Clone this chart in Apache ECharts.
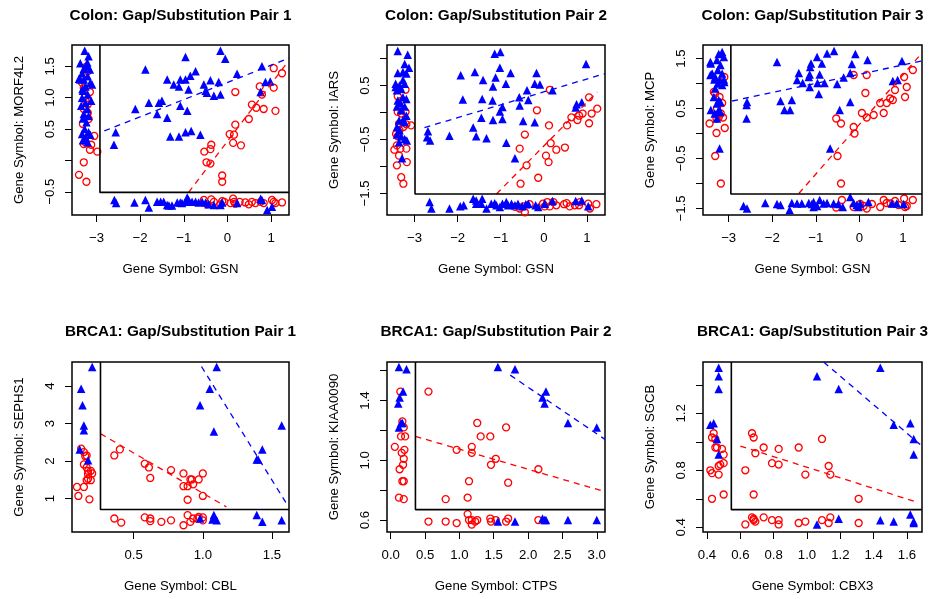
<!DOCTYPE html>
<html lang="en">
<head>
<meta charset="UTF-8">
<title>Gap/Substitution pairs</title>
<script src="https://cdn.jsdelivr.net/npm/echarts@6/dist/echarts.min.js"></script>
<style>
  html, body { margin: 0; padding: 0; background: #fff; }
  #main { width: 929px; height: 599px; }
</style>
</head>
<body>
<div id="main"></div>
<script>
// ---- data: Colon pair 1 (GSN vs MORF4L2) ----
var colon1Blue = [
  [-3.27,1.75],[-3.18,1.66],[-3.37,1.55],[-3.23,1.51],[-3.15,1.45],[-3.33,1.39],[-3.20,1.34],[-3.29,1.29],[-3.14,1.24],[-3.37,1.29],
  [-3.25,1.18],[-3.31,1.11],[-3.20,1.05],[-3.33,1.00],[-3.12,0.95],[-3.25,0.92],[-3.35,0.87],[-3.21,0.82],[-3.29,0.74],[-3.18,0.71],
  [-3.31,0.67],[-3.23,0.61],[-3.27,0.50],[-3.18,0.45],[-3.33,0.42],[-3.14,0.41],[-3.25,0.37],[-3.31,0.32],[-3.20,0.29],[-3.10,1.21],
  [-3.29,1.46],[-3.40,1.30],[-3.21,1.56],[-3.32,1.14],
  [-0.96,1.65],[-0.16,1.75],[-0.05,1.62],[-1.88,1.45],[-1.38,1.29],[-1.08,1.29],[-0.96,1.29],[-0.85,1.35],[-0.73,1.42],[-0.54,1.21],
  [-0.39,1.28],[-0.20,1.25],[0.22,1.38],[0.79,1.50],[-1.23,1.21],[-1.11,1.18],[-0.89,1.13],[-0.50,1.11],[-0.31,1.03],[-0.16,1.05],
  [-0.47,1.08],[-1.80,0.92],[-1.57,0.92],[-1.50,0.95],[-1.08,0.87],[-0.92,0.79],[-2.11,0.82],[-1.61,0.74],[-1.38,0.68],[-2.56,0.45],
  [-2.60,0.25],[-1.31,0.38],[-1.11,0.38],[-0.96,0.45],[-0.83,0.47],[-0.62,0.41],[0.76,1.09],[0.87,1.25],[0.98,1.26],
  [-2.59,-0.63],[-2.55,-0.68],[-2.13,-0.67],[-1.88,-0.63],[-1.80,-0.75],[-1.61,-0.66],[-1.53,-0.66],[-1.46,-0.66],[-1.38,-0.71],
  [-1.34,-0.72],[-1.27,-0.72],[-1.15,-0.67],[-1.08,-0.67],[-1.04,-0.68],[-0.96,-0.66],[-0.92,-0.59],[-0.89,-0.63],[-0.81,-0.66],
  [-0.73,-0.66],[-0.66,-0.67],[-0.58,-0.66],[-0.50,-0.67],[-0.43,-0.70],[-0.31,-0.71],[-0.16,-0.71],[-0.12,-0.67],[0.22,-0.68],
  [0.76,-0.61],[0.79,-0.63],[0.91,-0.79],[1.02,-0.74]
];
var colon1Red = [
  [-3.24,1.49],[-3.20,1.42],[-3.33,1.24],[-3.29,1.16],[-3.15,1.09],[-3.25,1.03],[-3.20,0.89],[-3.29,0.82],[-3.21,0.74],[-3.18,0.66],
  [-3.31,0.58],[-3.05,0.39],[-3.25,0.29],[-3.12,0.25],[-3.29,0.26],[-3.15,0.17],[-2.98,0.14],[-3.29,-0.03],[-3.40,-0.23],[-3.23,-0.34],
  [-3.20,0.76],[-3.25,0.95],
  [0.18,1.09],[0.74,1.18],[1.06,1.47],[1.25,1.39],[1.06,1.16],[0.79,1.05],[0.56,0.89],[0.66,0.84],[0.83,0.82],[1.10,0.79],
  [0.49,0.66],[0.18,0.57],[0.05,0.42],[0.15,0.41],[0.13,0.28],[0.31,0.24],[-0.37,0.25],[-0.53,0.14],[-0.39,0.18],[-0.48,-0.03],
  [-0.39,-0.05],[-0.12,-0.24],[-0.12,-0.34],
  [-0.54,-0.63],[-0.47,-0.70],[-0.37,-0.62],[-0.31,-0.66],[-0.12,-0.65],[-0.07,-0.66],[0.07,-0.68],[0.13,-0.61],[0.15,-0.66],
  [0.28,-0.66],[0.41,-0.67],[0.49,-0.70],[0.56,-0.66],[0.64,-0.68],[0.76,-0.66],[0.83,-0.68],[1.02,-0.63],[1.06,-0.66],[1.25,-0.67],
  [1.10,-0.68],[0.18,-0.69],[-0.16,-0.70]
];
var colon1BlueFit = [[-2.82,0.47],[1.41,1.63]];
var colon1RedFit = [[-0.89,-0.51],[1.37,1.56]];

// ---- data: Colon pair 2 (GSN vs IARS) ----
var colon2Blue = [
  [-3.39,1.14],[-3.16,1.07],[-3.23,0.90],[-3.13,0.83],[-3.39,0.73],[-3.27,0.75],[-3.19,0.72],[-3.44,0.53],[-3.35,0.50],[-3.23,0.53],
  [-3.31,0.44],[-3.41,0.41],[-3.27,0.28],[-3.19,0.25],[-3.39,0.22],[-3.33,0.17],[-3.41,0.11],[-3.23,0.11],[-3.31,0.04],[-3.19,-0.06],
  [-3.36,-0.15],[-3.27,-0.14],[-3.23,-0.18],[-3.41,-0.27],[-3.35,-0.33],[-3.41,-0.41],[-3.31,-0.44],[-3.23,-0.49],[-3.36,-0.55],
  [-3.18,-0.52],[-3.29,-0.85],[-3.44,0.47],[-3.27,0.60],
  [-1.14,1.09],[-1.01,1.12],[-1.02,0.83],[-0.77,0.73],[-1.60,0.75],[-1.93,0.69],[-1.12,0.65],[-1.41,0.60],[-0.88,0.53],[-1.18,0.48],
  [-0.17,0.73],[-0.21,0.53],[-0.09,0.52],[-0.39,0.41],[-1.88,0.24],[-1.43,0.25],[-1.19,0.22],[-0.57,0.28],[-0.36,0.23],[0.20,0.41],
  [-0.56,0.13],[-0.96,0.10],[-1.02,0.02],[-1.45,-0.10],[-1.18,-0.14],[-0.96,-0.12],[-0.48,-0.16],[-0.21,-0.18],[-1.64,-0.28],
  [-2.69,-0.35],[-2.71,-0.46],[-2.64,-0.52],[-2.19,-0.43],[-1.57,-0.44],[-1.33,-0.48],[-0.87,-0.56],[-0.67,-0.85],[0.76,0.15],
  [0.88,0.19],[0.98,0.90],[0.74,0.09],
  [-2.65,-1.66],[-2.61,-1.78],[-2.19,-1.78],[-1.94,-1.74],[-1.86,-1.72],[-1.64,-1.60],[-1.57,-1.63],[-1.45,-1.69],[-1.43,-1.60],
  [-1.33,-1.78],[-1.22,-1.69],[-1.14,-1.68],[-1.10,-1.72],[-1.02,-1.75],[-0.96,-1.69],[-0.87,-1.66],[-0.83,-1.72],[-0.75,-1.69],
  [-0.67,-1.72],[-0.60,-1.69],[-0.50,-1.74],[-0.42,-1.70],[-0.36,-1.69],[-0.19,-1.72],[-0.13,-1.75],[0.02,-1.69],[0.20,-1.64],
  [0.74,-1.64],[0.88,-1.63],[1.03,-1.74],[-1.57,-1.69]
];
var colon2Red = [
  [-3.39,0.30],[-3.33,0.21],[-3.21,0.42],[-3.39,0.01],[-3.31,-0.02],[-3.21,0.01],[-3.36,-0.21],[-3.19,-0.22],[-3.08,-0.24],[-3.26,-0.27],
  [-3.39,-0.44],[-3.41,-0.61],[-3.33,-0.67],[-3.47,-0.69],[-3.19,-0.67],[-3.36,-0.80],[-3.41,-0.98],[-3.18,-0.92],[-3.31,-1.20],
  [-3.26,-1.32],[-3.35,-0.33],[-3.43,-0.40],
  [0.14,0.42],[-0.16,0.04],[1.05,0.28],[1.24,0.07],[1.11,-0.02],[1.05,-0.20],[0.82,-0.06],[0.64,-0.09],[0.78,-0.14],[0.90,-0.02],
  [0.54,-0.24],[0.12,-0.24],[-0.44,-0.41],[0.16,-0.57],[0.29,-0.69],[0.49,-0.65],[-0.56,-0.67],[0.05,-0.80],[0.11,-0.92],[-0.40,-0.98],
  [-0.13,-1.21],[-0.54,-1.32],
  [-0.67,-1.75],[-0.56,-1.78],[-0.44,-1.85],[-0.48,-1.74],[-0.33,-1.70],[0.02,-1.74],[0.08,-1.66],[0.14,-1.74],[0.29,-1.72],
  [0.47,-1.70],[0.53,-1.68],[0.60,-1.74],[0.72,-1.72],[0.82,-1.72],[1.03,-1.69],[1.07,-1.78],[1.22,-1.70],[-0.02,-1.69],[0.22,-1.66],
  [0.84,-1.66]
];
var colon2BlueFit = [[-2.77,-0.28],[1.42,0.72]];
var colon2RedFit = [[-1.10,-1.51],[1.24,0.38]];

// ---- data: Colon pair 3 (GSN vs MCP) ----
var colon3Blue = [
  [-3.42,1.43],[-3.41,1.40],[-3.23,1.59],[-3.15,1.63],[-3.11,1.53],[-3.27,1.47],[-3.19,1.37],[-3.38,1.20],[-3.42,1.17],[-3.31,1.13],
  [-3.21,1.07],[-3.11,1.08],[-3.25,1.00],[-3.15,0.97],[-3.31,0.90],[-3.10,1.03],[-3.34,0.73],[-3.23,0.67],[-3.19,0.63],[-3.27,0.60],
  [-3.41,0.47],[-3.32,0.40],[-3.23,0.47],[-3.19,0.43],[-3.27,0.30],[-3.21,-0.30],[-3.33,1.08],[-3.15,1.20],[-3.25,1.27],
  [-0.58,1.65],[-0.74,1.60],[-0.09,1.59],[-0.97,1.53],[-1.89,1.43],[-1.11,1.40],[-0.86,1.40],[-0.17,1.39],[0.19,1.47],[0.98,1.45],
  [-1.13,1.33],[-1.39,1.21],[-1.14,1.18],[-0.91,1.18],[-1.16,1.13],[-0.21,1.21],[-0.36,1.12],[-1.43,1.07],[-1.30,1.01],[-0.96,1.01],
  [-0.80,1.01],[-0.51,0.99],[-1.14,0.93],[-0.93,0.79],[-1.81,0.65],[-1.55,0.67],[-2.58,0.63],[-2.59,0.57],[-1.59,0.47],[-1.72,0.47],
  [-0.67,-0.30],[-0.21,0.63],[-0.45,0.47],[-2.59,0.30],[0.77,1.05],[0.88,1.07],
  [-2.66,-1.45],[-2.58,-1.50],[-2.16,-1.39],[-1.89,-1.41],[-1.81,-1.43],[-1.60,-1.53],[-1.55,-1.39],[-1.43,-1.40],[-1.32,-1.40],
  [-1.16,-1.39],[-1.09,-1.41],[-1.05,-1.47],[-0.97,-1.45],[-0.91,-1.33],[-0.82,-1.40],[-0.74,-1.39],[-0.59,-1.40],[-0.48,-1.41],
  [-0.38,-1.47],[-0.21,-1.27],[-0.13,-1.39],[-0.06,-1.43],[-0.02,-1.47],[0.02,-1.40],[0.21,-1.37],[0.75,-1.40],[0.86,-1.40],
  [1.02,-1.41],[-1.05,-1.37]
];
var colon3Red = [
  [-3.10,1.13],[-3.34,0.83],[-3.31,0.80],[-3.21,0.73],[-3.15,0.61],[-3.27,0.50],[-3.18,0.40],[-3.23,0.32],[-3.28,0.30],[-3.44,0.20],
  [-3.13,0.32],[-3.09,0.11],[-3.28,0.01],[-3.31,-0.45],[-3.18,-1.00],
  [-0.13,1.17],[0.17,1.17],[0.14,0.81],[1.03,1.13],[1.23,1.27],[1.09,0.93],[1.05,0.73],[0.82,0.87],[0.71,0.70],[0.77,0.67],
  [0.63,0.61],[0.48,0.61],[0.33,0.37],[0.56,0.41],[0.17,0.32],[0.06,0.41],[-0.13,0.13],[-0.11,0.00],[-0.53,0.30],[-0.42,0.20],
  [-0.50,-0.45],[-0.42,-1.00],
  [-0.53,-1.48],[-0.40,-1.33],[-0.13,-1.47],[0.02,-1.41],[0.10,-1.45],[0.17,-1.50],[0.29,-1.41],[0.48,-1.47],[0.56,-1.33],
  [0.63,-1.39],[0.72,-1.40],[0.82,-1.35],[0.90,-1.43],[1.03,-1.30],[1.09,-1.45],[1.23,-1.33],[1.05,-1.47]
];
var colon3BlueFit = [[-2.92,0.65],[1.44,1.45]];
var colon3RedFit = [[-1.39,-1.20],[1.40,1.57]];

// ---- data: BRCA1 pair 1 (CBL vs SEPHS1) ----
var brca1Blue = [
  [0.20,4.51],[0.12,3.93],[0.13,3.49],[0.14,2.95],[0.14,2.82],[0.11,2.31],[0.17,2.02],
  [1.10,4.51],[1.05,3.93],[0.98,3.49],[1.08,2.79],[1.39,2.04],[1.40,2.04],[1.43,2.31],[1.57,2.95],
  [0.98,0.47],[1.08,0.56],[1.07,0.44],[1.10,0.42],[1.39,0.56],[1.43,0.38],[1.57,0.42],[1.08,0.51]
];
var brca1Red = [
  [0.12,2.33],[0.14,2.24],[0.15,2.13],[0.14,1.91],[0.16,1.83],[0.19,1.74],[0.17,1.65],[0.20,1.67],[0.17,1.53],[0.16,1.49],
  [0.19,1.49],[0.09,1.31],[0.14,1.31],[0.10,1.07],[0.18,0.98],[0.16,2.15],[0.17,1.74],
  [0.36,2.15],[0.40,2.31],[0.58,1.93],[0.61,1.83],[0.62,1.55],[0.77,1.76],[0.86,1.67],[0.91,1.51],[0.97,1.51],[0.86,1.33],
  [0.89,1.33],[1.00,1.67],[0.93,1.38],[1.00,1.07],[0.89,0.97],[0.92,1.51],
  [0.36,0.47],[0.41,0.36],[0.58,0.50],[0.62,0.47],[0.62,0.40],[0.70,0.38],[0.77,0.42],[0.86,0.29],[0.89,0.56],[0.91,0.38],
  [0.93,0.47],[0.97,0.51],[1.00,0.50],[1.00,0.42],[0.96,0.47]
];
var brca1BlueFit = [[0.99,4.52],[1.62,0.78]];
var brca1RedFit = [[0.26,2.73],[1.17,0.78]];

// ---- data: BRCA1 pair 2 (CTPS vs KIAA0090) ----
var brca2Blue = [
  [0.12,1.625],[0.23,1.61],[0.18,1.46],[0.13,1.42],[0.11,1.38],[0.15,1.25],[0.17,1.25],[0.12,1.22],
  [1.56,1.625],[1.81,1.61],[2.26,1.46],[2.21,1.42],[2.24,1.38],[2.58,1.25],[3.00,1.22],
  [1.56,0.59],[1.81,0.59],[2.21,0.61],[2.24,0.60],[2.26,0.60],[2.58,0.60],[3.00,0.60]
];
var brca2Red = [
  [0.14,1.46],[0.17,1.26],[0.19,1.22],[0.21,1.16],[0.06,1.09],[0.20,1.07],[0.16,1.05],[0.19,1.01],[0.13,0.94],[0.18,0.97],
  [0.17,0.86],[0.19,0.86],[0.12,0.75],[0.19,0.74],[0.15,1.16],
  [0.55,1.46],[1.26,1.25],[1.31,1.16],[1.45,1.16],[1.68,1.22],[0.96,1.07],[1.18,1.09],[1.18,1.05],[1.53,1.01],[1.46,0.97],
  [2.15,0.94],[1.14,0.86],[1.71,0.85],[0.80,0.74],[1.12,0.75],
  [0.55,0.59],[0.80,0.59],[0.96,0.58],[1.12,0.64],[1.14,0.60],[1.18,0.57],[1.18,0.60],[1.23,0.59],[1.26,0.60],[1.45,0.61],
  [1.46,0.59],[1.53,0.60],[1.68,0.59],[1.71,0.61],[2.15,0.60]
];
var brca2BlueFit = [[1.74,1.57],[3.12,1.14]];
var brca2RedFit = [[0.36,1.16],[3.12,0.79]];

// ---- data: BRCA1 pair 3 (CBX3 vs SGCB) ----
var brca3Blue = [
  [0.47,1.52],[0.47,1.46],[0.47,1.37],[0.42,1.12],[0.44,1.13],[0.46,1.02],[0.47,0.91],
  [1.44,1.52],[1.06,1.46],[1.19,1.37],[1.52,1.12],[1.62,1.13],[1.64,1.02],[1.64,0.91],
  [1.06,0.42],[1.19,0.46],[1.44,0.45],[1.52,0.44],[1.62,0.49],[1.64,0.44],[1.64,0.43]
];
var brca3Red = [
  [0.44,1.06],[0.43,1.03],[0.45,1.02],[0.46,0.96],[0.45,0.96],[0.49,0.95],[0.50,0.91],[0.50,0.85],[0.48,0.84],[0.47,0.83],
  [0.47,0.77],[0.42,0.80],[0.43,0.78],[0.43,0.60],[0.50,0.63],
  [0.67,1.06],[0.68,1.03],[0.69,0.92],[0.74,0.96],[0.83,0.95],[0.95,0.96],[1.09,1.02],[0.79,0.85],[0.83,0.84],[0.63,0.80],
  [0.99,0.77],[1.13,0.83],[1.14,0.77],[0.68,0.63],[1.31,0.60],
  [0.63,0.42],[0.67,0.47],[0.68,0.46],[0.69,0.44],[0.74,0.47],[0.79,0.45],[0.83,0.45],[0.83,0.42],[0.95,0.43],[0.99,0.44],
  [1.09,0.45],[1.13,0.43],[1.14,0.47],[1.31,0.43],[0.68,0.45]
];
var brca3BlueFit = [[1.10,1.56],[1.69,0.97]];
var brca3RedFit = [[0.60,0.97],[1.65,0.58]];

// ---- axes: limits, gap cut-offs, ticks ----
var panelTitles = ['Colon: Gap/Substitution Pair 1', 'Colon: Gap/Substitution Pair 2', 'Colon: Gap/Substitution Pair 3',
                   'BRCA1: Gap/Substitution Pair 1', 'BRCA1: Gap/Substitution Pair 2', 'BRCA1: Gap/Substitution Pair 3'];
var xNames = ['Gene Symbol: GSN', 'Gene Symbol: GSN', 'Gene Symbol: GSN', 'Gene Symbol: CBL', 'Gene Symbol: CTPS', 'Gene Symbol: CBX3'];
var yNames = ['Gene Symbol: MORF4L2', 'Gene Symbol: IARS', 'Gene Symbol: MCP', 'Gene Symbol: SEPHS1', 'Gene Symbol: KIAA0090', 'Gene Symbol: SGCB'];
var xLimits = [[-3.56, 1.41], [-3.64, 1.42], [-3.59, 1.44], [0.054, 1.623], [-0.054, 3.12], [0.376, 1.69]];
var yLimits = [[-0.87, 1.84], [-1.90, 1.25], [-1.63, 1.77], [0.11, 4.64], [0.52, 1.658], [0.367, 1.56]];
var gapCuts = [[-2.92, -0.51], [-2.99, -1.51], [-2.95, -1.21], [0.26, 0.71], [0.36, 0.67], [0.546, 0.524]];
var xTicks = [[-3, -2, -1, 0, 1], [-3, -2, -1, 0, 1], [-3, -2, -1, 0, 1], [0.5, 1.0, 1.5],
              [0, 0.5, 1, 1.5, 2, 2.5, 3], [0.4, 0.6, 0.8, 1.0, 1.2, 1.4, 1.6]];
var xTickLabels = xTicks;
var yTicks = [[-0.5, 0, 0.5, 1, 1.5], [-1.5, -1, -0.5, 0, 0.5, 1], [-1.5, -1, -0.5, 0, 0.5, 1, 1.5], [1, 2, 3, 4],
              [0.6, 0.8, 1.0, 1.2, 1.4, 1.6], [0.4, 0.6, 0.8, 1.0, 1.2, 1.4]];
var yTickLabels = [[-0.5, 0.5, 1, 1.5], [-1.5, -0.5, 0.5], [-1.5, -0.5, 0.5, 1.5], [1, 2, 3, 4],
                   [0.6, 1.0, 1.4], [0.4, 0.8, 1.2]];
var xDigits = [0, 0, 0, 1, 1, 1];
var yDigits = [1, 1, 1, 0, 1, 1];

var blueSets = [colon1Blue, colon2Blue, colon3Blue, brca1Blue, brca2Blue, brca3Blue];
var redSets = [colon1Red, colon2Red, colon3Red, brca1Red, brca2Red, brca3Red];
var blueFits = [colon1BlueFit, colon2BlueFit, colon3BlueFit, brca1BlueFit, brca2BlueFit, brca3BlueFit];
var redFits = [colon1RedFit, colon2RedFit, colon3RedFit, brca1RedFit, brca2RedFit, brca3RedFit];

// layout of the 2x3 panel boxes (pixels)
var colLeft = [72, 387, 703];
var colWidth = [217, 218, 219];
var rowTop = [45, 362];
var boxHeight = 170;

var FONT = '"Liberation Sans", Arial, Helvetica, sans-serif';

function fmt(v, d) {
    var s = Math.abs(v).toFixed(d);
    return (v < -1e-9 ? '\u2212' : '') + s;
}

var grids = [], xAxes = [], yAxes = [], series = [], texts = [];

for (var i = 0; i < 6; i++) {
    var col = i % 3, row = Math.floor(i / 3);
    grids.push({
        left: colLeft[col], top: rowTop[row], width: colWidth[col], height: boxHeight,
        show: true, borderColor: '#000', borderWidth: 1.5, backgroundColor: 'transparent'
    });
    (function (i) {
        xAxes.push({
            type: 'value', gridIndex: i, min: xLimits[i][0], max: xLimits[i][1], position: 'bottom',
            name: xNames[i], nameLocation: 'middle', nameGap: 48,
            nameTextStyle: { color: '#000', fontFamily: FONT, fontSize: 13.2 },
            axisLine: { show: false, onZero: false },
            axisTick: { show: true, length: 7, customValues: xTicks[i], lineStyle: { color: '#000', width: 1 } },
            axisLabel: {
                customValues: xTickLabels[i], margin: 17, color: '#000', fontFamily: FONT, fontSize: 13.2,
                formatter: function (v) { return fmt(v, xDigits[i]); }
            },
            splitLine: { show: false }
        });
        yAxes.push({
            type: 'value', gridIndex: i, min: yLimits[i][0], max: yLimits[i][1], position: 'left',
            name: yNames[i], nameLocation: 'middle', nameGap: 46, nameRotate: 90,
            nameTextStyle: { color: '#000', fontFamily: FONT, fontSize: 13.2 },
            axisLine: { show: false, onZero: false },
            axisTick: { show: true, length: 7, customValues: yTicks[i], lineStyle: { color: '#000', width: 1 } },
            axisLabel: {
                customValues: yTickLabels[i], margin: 15, rotate: 90, color: '#000', fontFamily: FONT, fontSize: 13.2,
                formatter: function (v) { return fmt(v, yDigits[i]); }
            },
            splitLine: { show: false }
        });
    })(i);

    series.push({
        type: 'scatter', xAxisIndex: i, yAxisIndex: i, data: redSets[i],
        symbol: 'circle', symbolSize: 7,
        itemStyle: { color: 'rgba(0,0,0,0)', borderColor: '#ff0000', borderWidth: 1.3, opacity: 1 },
        silent: true
    });
    series.push({
        type: 'scatter', xAxisIndex: i, yAxisIndex: i, data: blueSets[i],
        symbol: 'triangle', symbolSize: 8.5,
        itemStyle: { color: '#0000ff', opacity: 1 },
        silent: true
    });
    series.push({
        type: 'line', xAxisIndex: i, yAxisIndex: i, data: blueFits[i], symbol: 'none',
        lineStyle: { color: '#0000ff', width: 1.3, type: [6, 5] }, silent: true
    });
    series.push({
        type: 'line', xAxisIndex: i, yAxisIndex: i, data: redFits[i], symbol: 'none',
        lineStyle: { color: '#ff0000', width: 1.3, type: [6, 5] }, silent: true
    });
    // inner frame separating the gap strips from the paired values
    series.push({
        type: 'line', xAxisIndex: i, yAxisIndex: i, symbol: 'none',
        data: [[gapCuts[i][0], yLimits[i][1]], [gapCuts[i][0], gapCuts[i][1]], [xLimits[i][1], gapCuts[i][1]]],
        lineStyle: { color: '#000', width: 1.6 }, silent: true
    });

    texts.push({
        type: 'text', x: colLeft[col] + colWidth[col] / 2, y: row === 0 ? 15.5 : 332,
        style: { text: panelTitles[i], font: 'bold 15.3px ' + FONT, fill: '#000', textAlign: 'center', textVerticalAlign: 'middle' }
    });
}

var myChart = echarts.init(document.getElementById('main'));
myChart.setOption({
    animation: false,
    backgroundColor: '#fff',
    grid: grids,
    xAxis: xAxes,
    yAxis: yAxes,
    series: series,
    graphic: texts
});
</script>
</body>
</html>
